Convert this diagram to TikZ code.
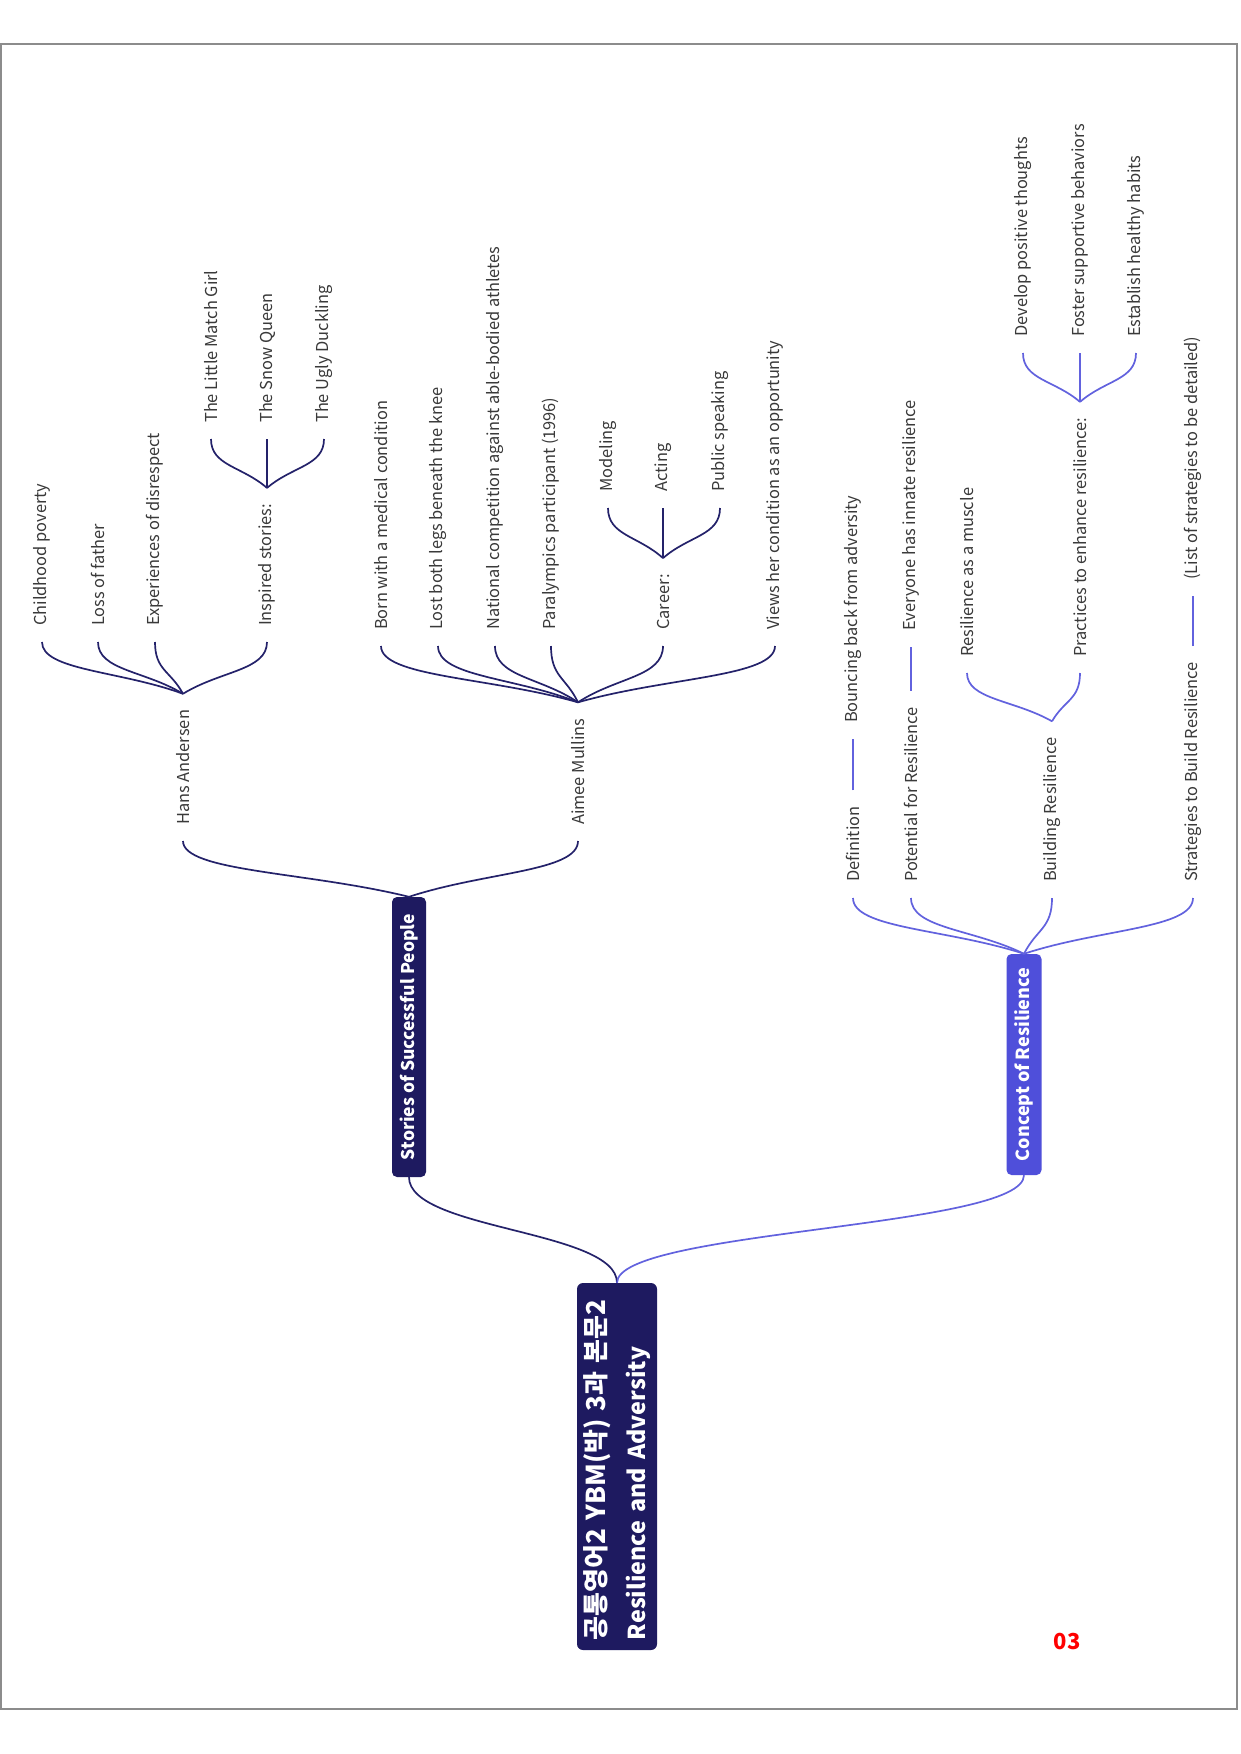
\documentclass[tikz,border=0pt]{standalone}
\usepackage{fontspec}
\setmainfont{Noto Sans CJK KR}
\usetikzlibrary{calc}
\definecolor{navy}{HTML}{1E1A60}
\definecolor{navyline}{HTML}{24226A}
\definecolor{blu}{HTML}{4F4FDA}
\definecolor{bluline}{HTML}{6262DE}
\definecolor{leaftext}{HTML}{3A3A3A}
\definecolor{framegray}{HTML}{8C8C8C}
\newcommand\mmbrace[3]{\draw[#1] (#2) .. controls ($(#2)!0.45!(#3)$) and ($(#3)!0.55!(#3|-#2)$) .. (#3);}
\tikzset{
  leaf/.style={rotate=90, anchor=west, inner xsep=16pt, inner ysep=2pt,
    font=\fontsize{16.4}{19}\selectfont, text=leaftext},
  nline/.style={navyline, line width=1.7pt},
  bline/.style={bluline, line width=1.7pt},
  branchbox/.style={rotate=90, rounded corners=5pt, text=white, inner sep=0pt},
}
\begin{document}
\begin{tikzpicture}[x=1pt, y=-1pt]
\useasboundingbox (0,0) rectangle (1240,1754);
\fill[white] (0,0) rectangle (1240,1754);
\draw[framegray, line width=1.5pt] (1,44) rectangle (1237,1709);

% root and main branches
\node[rotate=90, fill=navy, rounded corners=6pt, text=white,
  font=\bfseries\fontsize{24}{40}\selectfont, text width=347pt, align=left,
  inner xsep=10pt, inner ysep=4pt, minimum height=80pt] (root) at (617,1466.5)
  {{\fontsize{26}{40}\selectfont 공통영어2 YBM(박) 3과 본문2}\\{\fontsize{23.3}{40}\selectfont Resilience and Adversity}};
\node[branchbox, fill=navy, font=\bfseries\fontsize{17.5}{21}\selectfont,
  minimum width=280pt, minimum height=34pt] (stories) at (409,1037) {Stories of Successful People};
\node[branchbox, fill=blu, font=\bfseries\fontsize{18}{21}\selectfont,
  minimum width=221pt, minimum height=35pt] (concept) at (1024,1064.5) {Concept of Resilience};

\draw[nline] (root.east) .. controls ($(root.east)+(0,-53)$) and ($(stories.west)+(0,53)$) .. (stories.west);
\draw[bline] (root.east) .. controls ($(root.east)+(0,-53)$) and ($(concept.west)+(0,53)$) .. (concept.west);

% Stories subtree
\node[leaf] (hans) at (183,841) {Hans Andersen};
\node[leaf] (aimee) at (578,841) {Aimee Mullins};
\mmbrace{nline}{stories.east}{hans.west}
\mmbrace{nline}{stories.east}{aimee.west}

\node[leaf] (cp) at (42,642) {Childhood poverty};
\node[leaf] (lof) at (98,642) {Loss of father};
\node[leaf] (eod) at (155,642) {Experiences of disrespect};
\node[leaf] (ins) at (267,642) {Inspired stories:};
\mmbrace{nline}{hans.east}{cp.west}
\mmbrace{nline}{hans.east}{lof.west}
\mmbrace{nline}{hans.east}{eod.west}
\mmbrace{nline}{hans.east}{ins.west}

\node[leaf] (lmg) at (211,439) {The Little Match Girl};
\node[leaf] (snow) at (267,439) {The Snow Queen};
\node[leaf] (ugly) at (324,439) {The Ugly Duckling};
\mmbrace{nline}{ins.east}{lmg.west}
\draw[nline] (ins.east) -- (snow.west);
\mmbrace{nline}{ins.east}{ugly.west}

\node[leaf] (born) at (381,646) {Born with a medical condition};
\node[leaf] (lost) at (438,646) {Lost both legs beneath the knee};
\node[leaf] (nat) at (495,646) {National competition against able-bodied athletes};
\node[leaf] (para) at (551,646) {Paralympics participant (1996)};
\node[leaf] (career) at (663,646) {Career:};
\node[leaf] (views) at (775,646) {Views her condition as an opportunity};
\mmbrace{nline}{aimee.east}{born.west}
\mmbrace{nline}{aimee.east}{lost.west}
\mmbrace{nline}{aimee.east}{nat.west}
\mmbrace{nline}{aimee.east}{para.west}
\mmbrace{nline}{aimee.east}{career.west}
\mmbrace{nline}{aimee.east}{views.west}

\node[leaf] (model) at (608,508) {Modeling};
\node[leaf] (acting) at (663,508) {Acting};
\node[leaf] (public) at (720,508) {Public speaking};
\mmbrace{nline}{career.east}{model.west}
\draw[nline] (career.east) -- (acting.west);
\mmbrace{nline}{career.east}{public.west}

% Concept subtree
\node[leaf] (def) at (853,898) {Definition};
\node[leaf] (pot) at (911,898) {Potential for Resilience};
\node[leaf] (build) at (1052,898) {Building Resilience};
\node[leaf] (strat) at (1193,898) {Strategies to Build Resilience};
\mmbrace{bline}{concept.east}{def.west}
\mmbrace{bline}{concept.east}{pot.west}
\mmbrace{bline}{concept.east}{build.west}
\mmbrace{bline}{concept.east}{strat.west}

\node[leaf] (bounce) at (853,739) {Bouncing back from adversity};
\draw[bline] (def.east) -- (bounce.west);
\node[leaf] (every) at (911,647) {Everyone has innate resilience};
\draw[bline] (pot.east) -- (every.west);
\node[leaf] (list) at (1193,596) {(List of strategies to be detailed)};
\draw[bline] (strat.east) -- (list.west);

\node[leaf] (muscle) at (967,673) {Resilience as a muscle};
\node[leaf] (pract) at (1080,673) {Practices to enhance resilience:};
\mmbrace{bline}{build.east}{muscle.west}
\mmbrace{bline}{build.east}{pract.west}

\node[leaf] (dev) at (1023,353) {Develop positive thoughts};
\node[leaf] (foster) at (1080,353) {Foster supportive behaviors};
\node[leaf] (estab) at (1136,353) {Establish healthy habits};
\mmbrace{bline}{pract.east}{dev.west}
\draw[bline] (pract.east) -- (foster.west);
\mmbrace{bline}{pract.east}{estab.west}

% page number
\node[text=red, font=\bfseries\fontsize{22}{24}\selectfont, inner sep=0pt] (pagenum) at (1067,1641) {03};
\end{tikzpicture}
\end{document}
